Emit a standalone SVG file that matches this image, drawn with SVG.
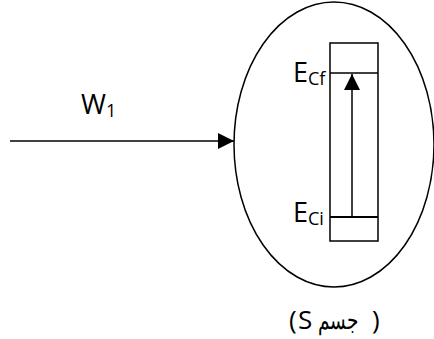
<svg xmlns="http://www.w3.org/2000/svg" width="434" height="339" viewBox="0 0 434 339">
<defs>
<style>
.ln{stroke:#000;stroke-width:1.5;fill:none}
.t{font-family:"Open Sans","Liberation Sans",sans-serif;fill:#000}
</style>
<marker id="ah2" markerWidth="16" markerHeight="16" viewBox="0 0 16 16" refX="16" refY="8" orient="auto" markerUnits="userSpaceOnUse">
<path d="M0,0 L16,8 L0,16 Z" fill="#000"/>
</marker>
</defs>
<rect width="434" height="339" fill="#fff"/>
<g id="body">
<ellipse class="ln" cx="334" cy="144.5" rx="100" ry="142.5"/>
<rect class="ln" x="330" y="43" width="48" height="198"/>
<line class="ln" x1="330" y1="73" x2="378" y2="73"/>
<line x1="330" y1="217" x2="378" y2="217" stroke="#000" stroke-width="2"/>
<text class="t" x="293" y="82" font-size="27">E<tspan font-size="18" dy="3">Cf</tspan></text>
<text class="t" x="293" y="222" font-size="27">E<tspan font-size="18" dy="3">Ci</tspan></text>
</g>
<g id="caption">
<text class="t" x="289" y="329" font-size="26">(</text>
<text class="t" x="298" y="329" font-size="26">S</text>
<text class="t" x="318" y="329" font-size="26" direction="ltr" textLength="40" lengthAdjust="spacingAndGlyphs" font-family="'Noto Sans','DejaVu Sans',sans-serif">جسم</text>
<text class="t" x="372" y="329" font-size="26">)</text>
</g>
<g id="input">
<text class="t" x="81" y="114" font-size="27">W<tspan font-size="18" dy="3">1</tspan></text>
</g>
<g id="connectors">
<line class="ln" x1="10" y1="141" x2="234" y2="141" marker-end="url(#ah2)"/>
<line class="ln" x1="352" y1="217" x2="352" y2="74" marker-end="url(#ah2)"/>
</g>
</svg>
